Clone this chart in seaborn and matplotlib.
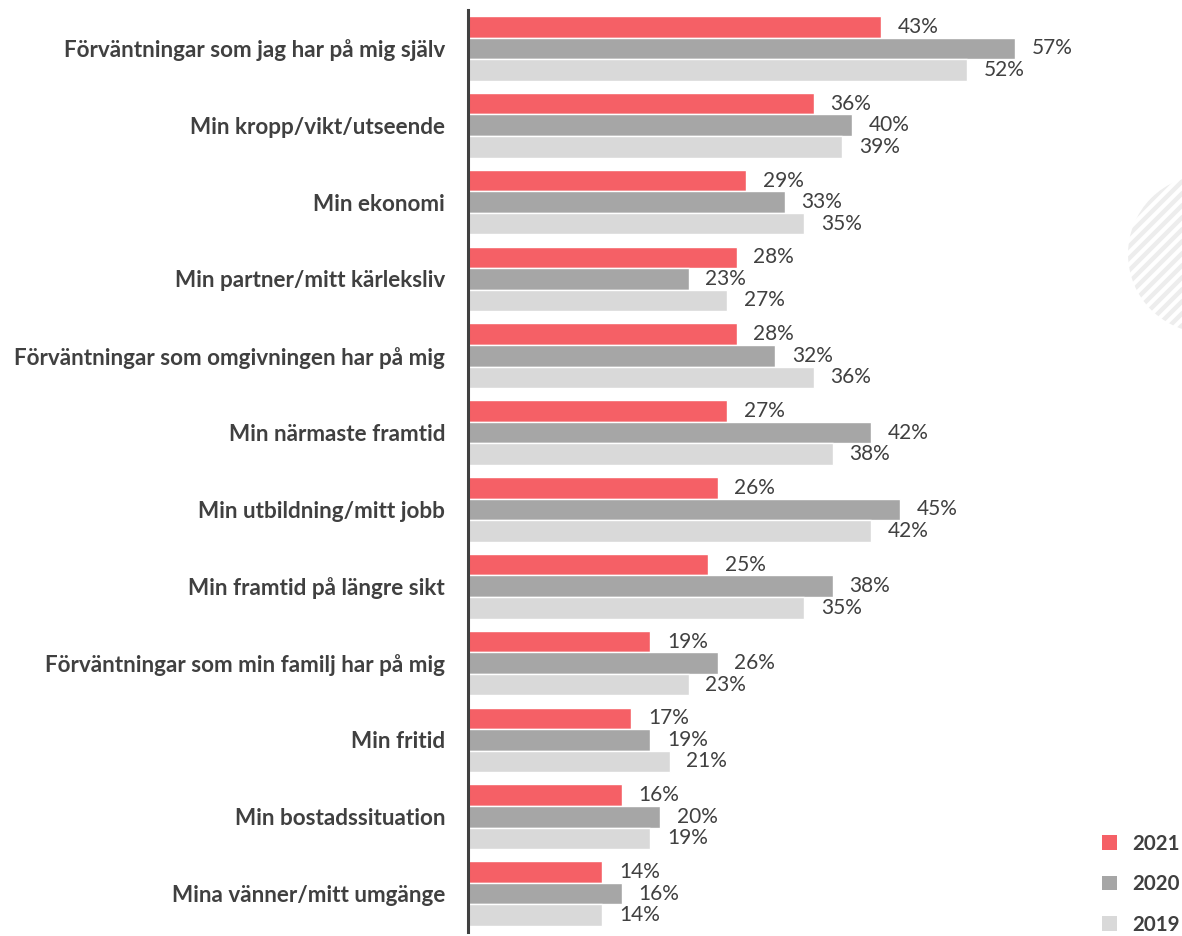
import matplotlib
matplotlib.use("Agg")
import matplotlib.pyplot as plt
from matplotlib.patches import Patch, Ellipse
from matplotlib.lines import Line2D
import numpy as np
import seaborn as sns
import pandas as pd

categories = [
    "Förväntningar som jag har på mig själv",
    "Min kropp/vikt/utseende",
    "Min ekonomi",
    "Min partner/mitt kärleksliv",
    "Förväntningar som omgivningen har på mig",
    "Min närmaste framtid",
    "Min utbildning/mitt jobb",
    "Min framtid på längre sikt",
    "Förväntningar som min familj har på mig",
    "Min fritid",
    "Min bostadssituation",
    "Mina vänner/mitt umgänge",
]
years = ["2021", "2020", "2019"]
values_2021 = [43, 36, 29, 28, 28, 27, 26, 25, 19, 17, 16, 14]
values_2020 = [57, 40, 33, 23, 32, 42, 45, 38, 26, 19, 20, 16]
values_2019 = [52, 39, 35, 27, 36, 38, 42, 35, 23, 21, 19, 14]

colors = {"2021": "#F56066", "2020": "#A6A6A6", "2019": "#D9D9D9"}
text_color = "#404040"

rows = []
for year, vals in zip(years, [values_2021, values_2020, values_2019]):
    for cat, v in zip(categories, vals):
        rows.append({"Kategori": cat, "År": year, "Andel": v})
df = pd.DataFrame(rows)

sns.set_style("white")
plt.rcParams["font.family"] = ["Lato", "DejaVu Sans"]

W, H = 1182, 936
fig = plt.figure(figsize=(W / 100, H / 100), dpi=100)

# decorative striped circle at the right edge (pixel geometry, origin bottom-left)
cx, cy, r = 1207.0, H - 254.0, 79.0
clip = Ellipse((cx / W, cy / H), 2 * r / W, 2 * r / H,
               transform=fig.transFigure, facecolor="none", edgecolor="none")
fig.patches.append(clip)
xs = np.array([cx - r - 5, cx + r + 5])
for c in np.arange(cy - cx - 1.5 * r, cy - cx + 1.5 * r, 12.0):
    stripe = Line2D(xs / W, (xs + c) / H, transform=fig.transFigure,
                    color="#EDEDED", linewidth=3.2, solid_capstyle="butt",
                    zorder=0)
    stripe.set_clip_path(clip)
    fig.lines.append(stripe)

ax_left = 468 / W
ax = fig.add_axes([ax_left, 1 - 932 / H, 1 - ax_left, (932 - 10) / H])
ax.patch.set_alpha(0)

sns.barplot(data=df, y="Kategori", x="Andel", hue="År", hue_order=years,
            order=categories, palette=colors, orient="h", width=0.84,
            saturation=1, edgecolor="white", linewidth=1.0, legend=False,
            ax=ax)

for cont in ax.containers:
    ax.bar_label(cont, fmt="%.0f%%", padding=12, fontsize=15, color=text_color)

px_per_pct = 9.6
ax.set_xlim(0, (W - 468) / px_per_pct)
ax.set_ylim(len(categories) - 0.5, -0.5)
ax.set_xlabel("")
ax.set_ylabel("")
ax.set_xticks([])
ax.tick_params(axis="y", length=0, pad=16.5)
for lab in ax.get_yticklabels():
    lab.set_fontweight("bold")
    lab.set_fontsize(16.2)
    lab.set_color(text_color)

for side in ["top", "right", "bottom"]:
    ax.spines[side].set_visible(False)
ax.spines["left"].set_color(text_color)
ax.spines["left"].set_linewidth(2.2)

handles = [Patch(facecolor=colors[y], edgecolor="none", label=y) for y in years]
leg = fig.legend(handles=handles, loc="lower right",
                 bbox_to_anchor=(1190 / W, -9 / H), frameon=False, borderpad=0,
                 handlelength=0.7, handleheight=0.7, labelspacing=1.0,
                 handletextpad=0.75, prop={"weight": "bold", "size": 14.8})
for t in leg.get_texts():
    t.set_color(text_color)

fig.savefig("out.png", dpi=100)
